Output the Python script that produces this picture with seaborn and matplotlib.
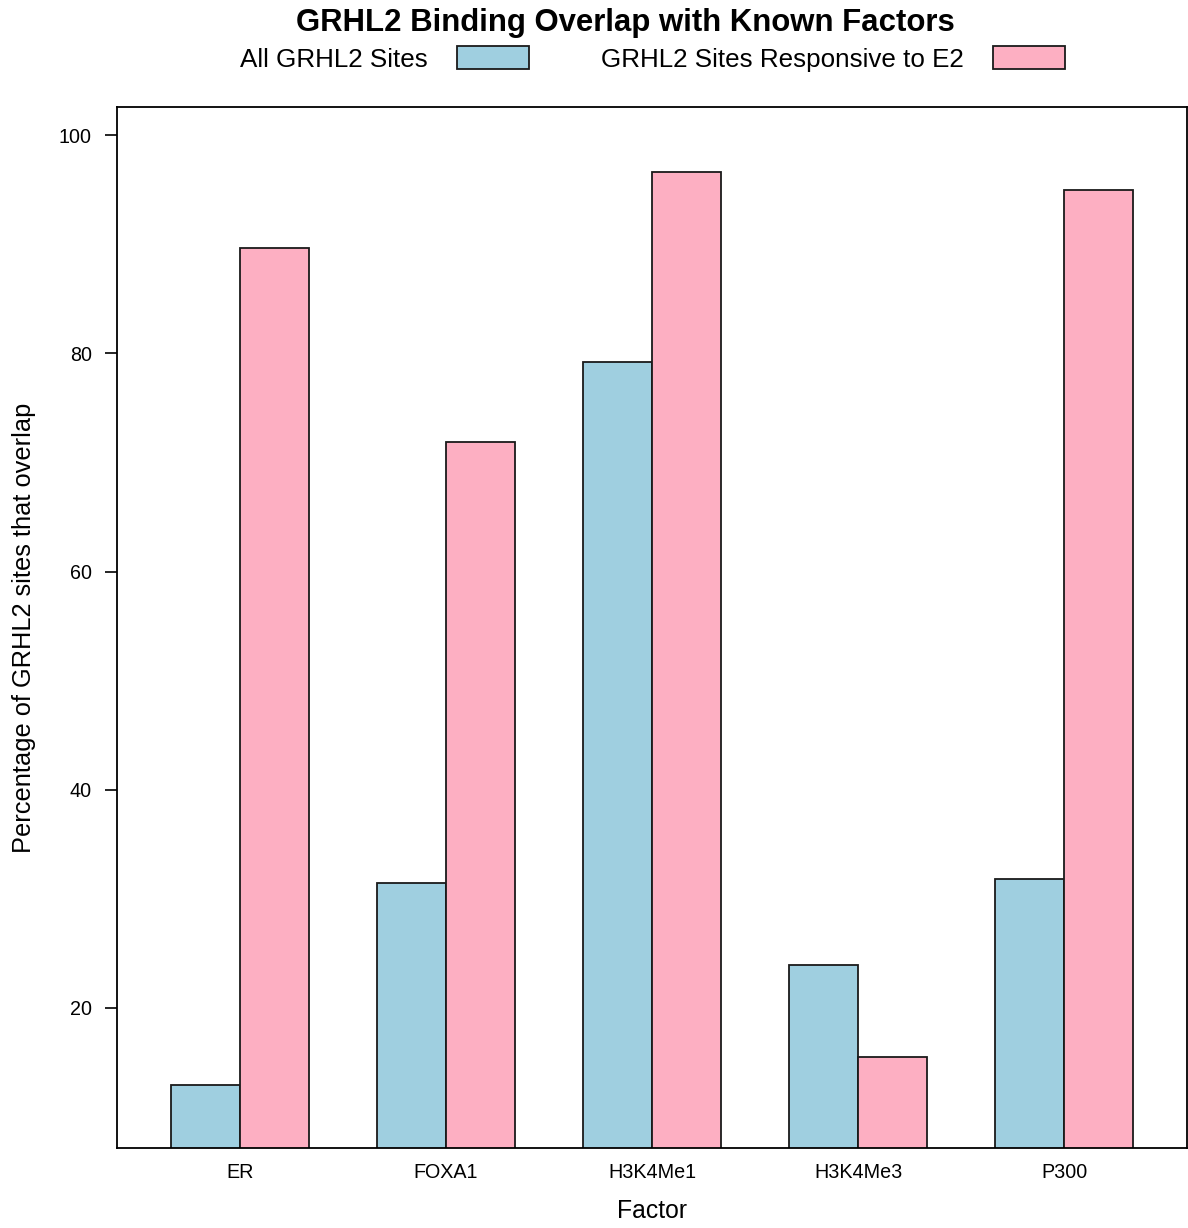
import matplotlib
matplotlib.use("Agg")
import matplotlib.pyplot as plt
import seaborn as sns
import pandas as pd
from matplotlib.patches import Patch

factors = ["ER", "FOXA1", "H3K4Me1", "H3K4Me3", "P300"]
all_sites = [12.94, 31.48, 79.18, 23.94, 31.84]
e2_sites = [89.64, 71.84, 96.61, 15.51, 94.96]
series_names = ["All GRHL2 Sites", "GRHL2 Sites Responsive to E2"]
colors = ["#9FCFE0", "#FDAFC2"]
y_ticks = [20, 40, 60, 80, 100]

df = pd.DataFrame({
    "Factor": factors * 2,
    "Value": all_sites + e2_sites,
    "Series": [series_names[0]] * len(factors) + [series_names[1]] * len(factors),
})

sns.set_style("white")
plt.rcParams["font.family"] = ["Liberation Sans", "DejaVu Sans"]
plt.rcParams["text.color"] = "black"
plt.rcParams["axes.labelcolor"] = "black"
plt.rcParams["xtick.color"] = "black"
plt.rcParams["ytick.color"] = "black"

fig = plt.figure(figsize=(11.88, 12.28), dpi=100)
ax = fig.add_axes([117/1188, 1 - 1148/1228, 1070/1188, 1041/1228])

sns.barplot(data=df, x="Factor", y="Value", hue="Series", order=factors,
            hue_order=series_names, palette=colors, width=2/3,
            edgecolor="#1a1a1a", linewidth=1.3, saturation=1, ax=ax, legend=False)

ax.set_xlim(-0.597, 4.597)
ax.set_ylim(7.17, 102.57)
ax.set_yticks(y_ticks)
ax.tick_params(axis="y", direction="out", length=9, width=1.2, pad=9, labelsize=14.2, left=True, colors="black")
ax.tick_params(axis="x", length=0, pad=11, labelsize=14.2, colors="black")
for s in ax.spines.values():
    s.set_visible(True)
    s.set_color("black")
    s.set_linewidth(1.3)

ax.set_xlabel("Factor", fontsize=17.8, color="black")
ax.set_ylabel("Percentage of GRHL2 sites that overlap", fontsize=18.3, color="black")
ax.xaxis.set_label_coords(0.5, (1148 - 1211) / 1041)
ax.xaxis.label.set_va("center")
ax.yaxis.set_label_coords((24 - 117) / 1070, 0.5)
ax.yaxis.label.set_va("center")

fig.text(625.5/1188, 1 - 23/1228, "GRHL2 Binding Overlap with Known Factors",
         ha="center", va="center", fontsize=22.4, fontweight="bold", color="black")

handles = [Patch(facecolor=c, edgecolor="#1a1a1a", linewidth=1.3) for c in colors]
fig.legend(handles, series_names, loc="center", bbox_to_anchor=(652.5/1188, 1 - 59/1228),
           ncol=2, frameon=False, markerfirst=False, fontsize=18.7,
           handlelength=2.77, handleheight=0.96, handletextpad=1.12, columnspacing=2.8,
           borderpad=0, borderaxespad=0, labelcolor="black")

fig.savefig("out.png", dpi=100)
